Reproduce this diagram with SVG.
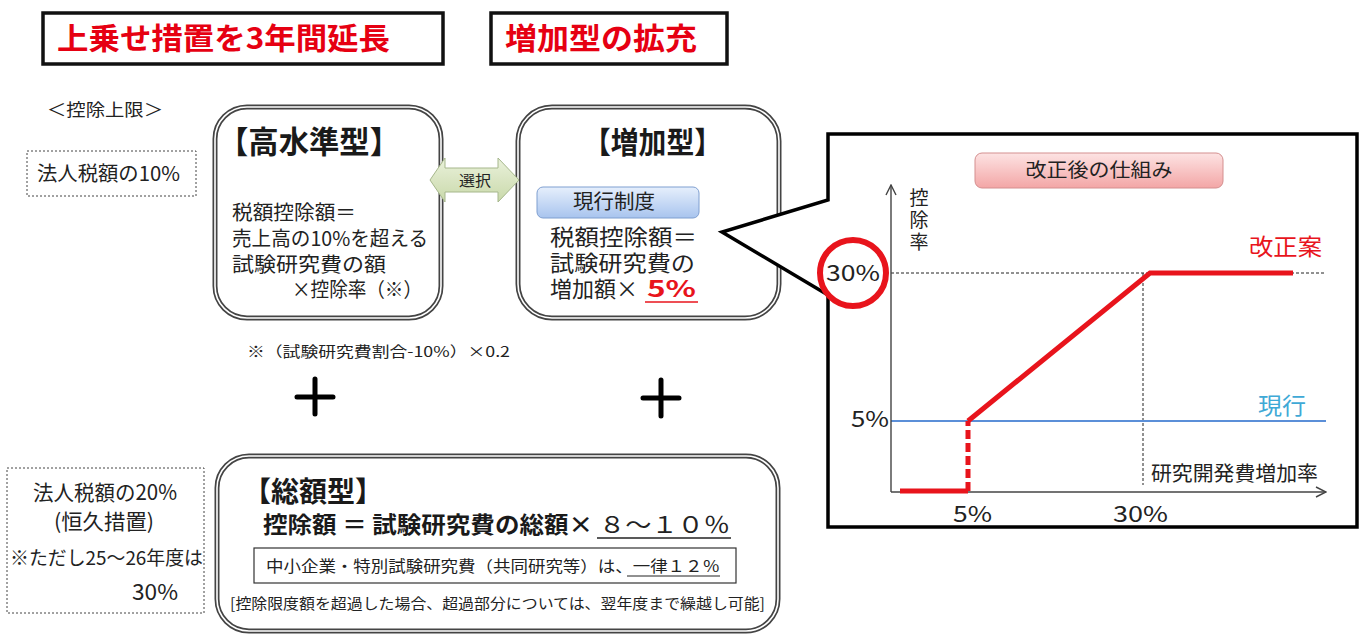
<svg xmlns="http://www.w3.org/2000/svg" width="1362" height="635" viewBox="0 0 1362 635">
<defs>
<linearGradient id="pinkGrad" x1="0" y1="0" x2="0" y2="1"><stop offset="0" stop-color="#fde3e3"/><stop offset="1" stop-color="#f3a6a6"/></linearGradient>
<linearGradient id="blueGrad" x1="0" y1="0" x2="0" y2="1"><stop offset="0" stop-color="#e6effc"/><stop offset="1" stop-color="#a8c4ee"/></linearGradient>
<linearGradient id="greenGrad" x1="0" y1="0" x2="0" y2="1"><stop offset="0" stop-color="#eaf1db"/><stop offset="1" stop-color="#c9d9aa"/></linearGradient>
<marker id="chev" viewBox="0 0 12 12" refX="11" refY="6" markerWidth="12" markerHeight="12" markerUnits="userSpaceOnUse" orient="auto"><path d="M1,1 L11,6 L1,11" fill="none" stroke="#444" stroke-width="1.4"/></marker>
<style>
text{font-family:"Noto Sans CJK JP","Noto Sans",sans-serif;fill:#222}
.title{font-size:30px;font-weight:bold;fill:#e60012}
.tbox{fill:#fff;stroke:#111;stroke-width:3.5}
.dash{fill:#fff;stroke:#444;stroke-width:1;stroke-dasharray:2,2}
.dblo{fill:#fff;stroke:#444;stroke-width:5}
.dbli{fill:none;stroke:#fff;stroke-width:1.6}
.head{font-weight:bold;fill:#1a1a1a}
.plus{stroke:#000;stroke-width:5;stroke-linecap:round}
.red{stroke:#e8141c;stroke-width:5;fill:none}
.ax{stroke:#444;stroke-width:1.4;fill:none}
.dot{stroke:#222;stroke-width:1;stroke-dasharray:3,2;fill:none}
</style>
</defs>
<rect width="1362" height="635" fill="#fff"/>

<g id="title-extend">
<rect class="tbox" x="43" y="13" width="400" height="51"/>
<text class="title" x="57" y="49" textLength="333" lengthAdjust="spacingAndGlyphs">上乗せ措置を3年間延長</text>
</g>
<g id="title-expand">
<rect class="tbox" x="491" y="13" width="236" height="51"/>
<text class="title" x="505" y="49" textLength="192" lengthAdjust="spacingAndGlyphs">増加型の拡充</text>
</g>

<g id="limit-label">
<text x="47" y="116" font-size="17" textLength="116" lengthAdjust="spacingAndGlyphs">＜控除上限＞</text>
</g>
<g id="limit10">
<rect class="dash" x="27" y="151" width="169" height="45"/>
<text x="37" y="181" font-size="20" textLength="143" lengthAdjust="spacingAndGlyphs">法人税額の10%</text>
</g>

<g id="high-level">
<rect class="dblo" x="215" y="107" width="226" height="211" rx="32"/>
<rect class="dbli" x="215" y="107" width="226" height="211" rx="32"/>
<text class="head" x="218" y="153" font-size="31" textLength="182" lengthAdjust="spacingAndGlyphs">【高水準型】</text>
<text font-size="20" lengthAdjust="spacingAndGlyphs">
<tspan x="232" y="220" textLength="124" lengthAdjust="spacingAndGlyphs">税額控除額＝</tspan>
<tspan x="232" y="246" textLength="196" lengthAdjust="spacingAndGlyphs">売上高の10%を超える</tspan>
<tspan x="232" y="272" textLength="154" lengthAdjust="spacingAndGlyphs">試験研究費の額</tspan>
<tspan x="292" y="297" textLength="130" lengthAdjust="spacingAndGlyphs">×控除率（※）</tspan>
</text>
</g>

<g id="note">
<text x="247" y="357" font-size="14.5" textLength="263" lengthAdjust="spacingAndGlyphs">※（試験研究費割合-10%）×0.2</text>
</g>

<g id="increase">
<rect class="dblo" x="518" y="107" width="261" height="211" rx="34"/>
<rect class="dbli" x="518" y="107" width="261" height="211" rx="34"/>
<text class="head" x="583" y="153" font-size="30" textLength="139" lengthAdjust="spacingAndGlyphs">【増加型】</text>
<rect x="537" y="187" width="162" height="31" rx="6" fill="url(#blueGrad)" stroke="#7f9fd0" stroke-width="1"/>
<text x="614" y="209" font-size="20" text-anchor="middle" textLength="82" lengthAdjust="spacingAndGlyphs">現行制度</text>
<text font-size="22">
<tspan x="550" y="245" textLength="147" lengthAdjust="spacingAndGlyphs">税額控除額＝</tspan>
<tspan x="550" y="271" textLength="145" lengthAdjust="spacingAndGlyphs">試験研究費の</tspan>
<tspan x="550" y="297" textLength="88" lengthAdjust="spacingAndGlyphs">増加額×</tspan>
<tspan x="647" y="297" font-weight="bold" style="fill:#e8141c" textLength="49" lengthAdjust="spacingAndGlyphs">5%</tspan>
</text>
<line x1="645" y1="302" x2="698" y2="302" stroke="#e8141c" stroke-width="1.6"/>
</g>

<g id="connectors">
<polygon points="430,180 445,158 445,168 498,168 498,158 519,180 498,202 498,192 445,192 445,202" fill="url(#greenGrad)" stroke="#a6b78c" stroke-width="1"/>
<text x="475" y="186" font-size="15" text-anchor="middle" textLength="32" lengthAdjust="spacingAndGlyphs">選択</text>
</g>

<g id="chart">
<polygon points="828,134 1357,134 1357,527 828,527 828,295 722,232 828,200" fill="#fff" stroke="#000" stroke-width="3.5" stroke-linejoin="miter"/>
<rect x="975" y="153" width="248" height="35" rx="7" fill="url(#pinkGrad)" stroke="#d48f8f" stroke-width="1"/>
<text x="1099" y="177" font-size="19" text-anchor="middle" textLength="147" lengthAdjust="spacingAndGlyphs">改正後の仕組み</text>
<line class="dot" x1="891" y1="273" x2="1325" y2="273"/>
<line class="dot" x1="1143" y1="273" x2="1143" y2="485"/>
<line x1="891" y1="421" x2="1326" y2="421" stroke="#5b8fd8" stroke-width="2"/>
<line class="ax" x1="891" y1="492" x2="891" y2="185" marker-end="url(#chev)"/>
<line class="ax" x1="891" y1="492" x2="1326" y2="492" marker-end="url(#chev)"/>
<polyline class="red" points="900,491 968,491"/>
<line class="red" x1="968" y1="491" x2="968" y2="421" stroke-dasharray="9,4"/>
<polyline class="red" points="968,421 1150,273 1293,273"/>
<text font-size="19" text-anchor="middle"><tspan x="919" y="205">控</tspan><tspan x="919" y="227">除</tspan><tspan x="919" y="249">率</tspan></text>
<text x="1249" y="255" font-size="23" style="fill:#e8141c" textLength="73" lengthAdjust="spacingAndGlyphs">改正案</text>
<text x="1258" y="414" font-size="23" style="fill:#3fa9d6" textLength="48" lengthAdjust="spacingAndGlyphs">現行</text>
<text x="1151" y="481" font-size="20" textLength="167" lengthAdjust="spacingAndGlyphs">研究開発費増加率</text>
<text x="851" y="427" font-size="22" textLength="38" lengthAdjust="spacingAndGlyphs">5%</text>
<text x="953" y="522" font-size="22" textLength="39" lengthAdjust="spacingAndGlyphs">5%</text>
<text x="1113" y="522" font-size="22" textLength="55" lengthAdjust="spacingAndGlyphs">30%</text>
<circle cx="853" cy="273" r="33" fill="#fff" stroke="#e8141c" stroke-width="6"/>
<text x="826" y="281" font-size="22" textLength="54" lengthAdjust="spacingAndGlyphs">30%</text>
</g>

<g id="plus1"><path class="plus" d="M297,397 H333 M315,379 V414"/></g>
<g id="plus2"><path class="plus" d="M643,398 H679 M661,380 V416"/></g>

<g id="limit20">
<rect class="dash" x="7" y="468" width="197" height="145"/>
<text x="33" y="500" font-size="21" textLength="144" lengthAdjust="spacingAndGlyphs">法人税額の20%</text>
<text x="104" y="529" font-size="21" text-anchor="middle" textLength="100" lengthAdjust="spacingAndGlyphs">(恒久措置)</text>
<text x="10" y="565" font-size="19" textLength="193" lengthAdjust="spacingAndGlyphs">※ただし25〜26年度は</text>
<text x="132" y="600" font-size="22" textLength="46" lengthAdjust="spacingAndGlyphs">30%</text>
</g>

<g id="total">
<rect class="dblo" x="217" y="456" width="561" height="175" rx="32"/>
<rect class="dbli" x="217" y="456" width="561" height="175" rx="32"/>
<text class="head" x="243" y="502" font-size="28" textLength="140" lengthAdjust="spacingAndGlyphs">【総額型】</text>
<text class="head" x="263" y="533" font-size="23" textLength="330" lengthAdjust="spacingAndGlyphs">控除額 ＝ 試験研究費の総額×</text>
<text x="599" y="533" font-size="23" textLength="131" lengthAdjust="spacingAndGlyphs">８～１０％</text>
<line x1="597" y1="538" x2="731" y2="538" stroke="#222" stroke-width="1.3"/>
<rect x="254" y="548" width="482" height="35" fill="none" stroke="#333" stroke-width="1.2"/>
<text x="266" y="572" font-size="15.5" textLength="454" lengthAdjust="spacingAndGlyphs">中小企業・特別試験研究費（共同研究等）は、一律１２％</text>
<line x1="627" y1="576" x2="720" y2="576" stroke="#222" stroke-width="1"/>
<text x="230" y="609" font-size="14.5" textLength="535" lengthAdjust="spacingAndGlyphs">[控除限度額を超過した場合、超過部分については、翌年度まで繰越し可能]</text>
</g>
</svg>
